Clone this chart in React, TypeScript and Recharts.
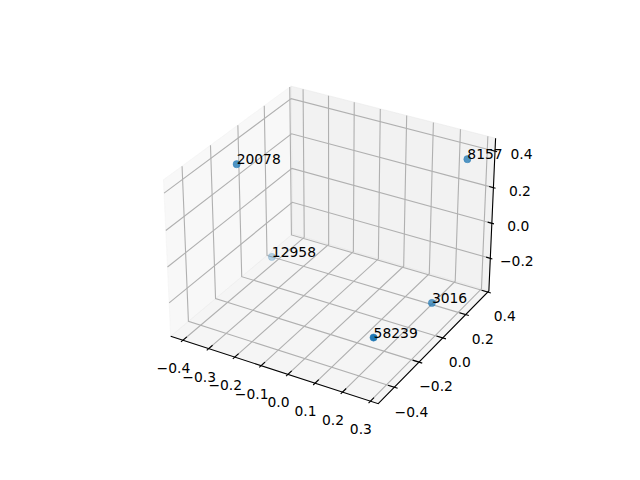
import React from "react"
import { ScatterChart, Scatter, XAxis, YAxis, Customized } from "recharts"

const labels = ["20078", "8157", "12958", "3016", "58239"]
const xs = [-0.324, 0.298, -0.408, 0.298, 0.292]
const ys = [-0.247, 0.238, 0.161, -0.032, -0.49]
const zs = [0.443, 0.441, -0.357, -0.184, -0.071]

const xTicks = [-0.4, -0.3, -0.2, -0.1, 0, 0.1, 0.2, 0.3]
const yTicks = [-0.4, -0.2, 0, 0.2, 0.4]
const zTicks = [-0.2, 0, 0.2, 0.4]

const xLim = [-0.448, 0.328]
const yLim = [-0.527, 0.41]
const zLim = [-0.39, 0.47]

const FONT = "DejaVu Sans"
const BLUE = "#1f77b4"

// same camera as a default matplotlib 3d axes (elev 30, azim -60, dist 10)
const elev = (30 * Math.PI) / 180
const azim = (-60 * Math.PI) / 180
const dist = 10
const box = [1.1429, 1.1429, 0.8572]
const w = [Math.cos(elev) * Math.cos(azim), Math.cos(elev) * Math.sin(azim), Math.sin(elev)]
const uLen = Math.hypot(w[0], w[1])
const u = [-w[1] / uLen, w[0] / uLen, 0]
const v = [w[1] * u[2] - w[2] * u[1], w[2] * u[0] - w[0] * u[2], w[0] * u[1] - w[1] * u[0]]

function view(x: number, y: number, z: number) {
  const p = [
    ((x - xLim[0]) / (xLim[1] - xLim[0])) * box[0] - box[0] / 2 - dist * w[0],
    ((y - yLim[0]) / (yLim[1] - yLim[0])) * box[1] - box[1] / 2 - dist * w[1],
    ((z - zLim[0]) / (zLim[1] - zLim[0])) * box[2] - box[2] / 2 - dist * w[2],
  ]
  const dot = (a: number[]) => a[0] * p[0] + a[1] * p[1] + a[2] * p[2]
  return [dot(u), dot(v), dot(w)]
}

function project(x: number, y: number, z: number): [number, number] {
  const [vx, vy, vz] = view(x, y, z)
  return [332.6 + (vx / -vz) * 2081, 237.6 - (vy / -vz) * 2081]
}

const depths = xs.map((x, i) => view(x, ys[i], zs[i])[2])
const nearest = Math.max(...depths)
const farthest = Math.min(...depths)

const points = labels.map((label, i) => {
  const [sx, sy] = project(xs[i], ys[i], zs[i])
  return { label, sx, sy, alpha: 1 - ((nearest - depths[i]) / (nearest - farthest)) * 0.7 }
})

type P3 = [number, number, number]

function Path3({ pts, color = "#b0b0b0", width = 1.11 }: { pts: P3[]; color?: string; width?: number }) {
  const d = pts.map((p) => project(p[0], p[1], p[2]).join(",")).join(" ")
  return <polyline points={d} fill="none" stroke={color} strokeWidth={width} />
}

function Pane({ pts, shade }: { pts: P3[]; shade: string }) {
  const d = pts.map((p) => project(p[0], p[1], p[2]).join(",")).join(" ")
  return <polygon points={d} fill={shade} fillOpacity={0.5} stroke={shade} strokeOpacity={0.5} strokeWidth={1} />
}

function tickText(t: number) {
  return t.toFixed(1).replace("-", "\u2212")
}

function Label({ at, text }: { at: [number, number]; text: string }) {
  return (
    <text x={at[0]} y={at[1]} textAnchor="middle" fontFamily={FONT} fontSize={13.89} fill="#000">
      {text}
    </text>
  )
}

function Axes3D() {
  const [x0, x1] = xLim
  const [y0, y1] = yLim
  const [z0, z1] = zLim
  const xr = x1 - x0
  const yr = y1 - y0
  return (
    <g>
      <Pane shade="#f2f2f2" pts={[[x0, y0, z0], [x0, y1, z0], [x0, y1, z1], [x0, y0, z1]]} />
      <Pane shade="#e6e6e6" pts={[[x0, y1, z0], [x1, y1, z0], [x1, y1, z1], [x0, y1, z1]]} />
      <Pane shade="#ececec" pts={[[x0, y0, z0], [x1, y0, z0], [x1, y1, z0], [x0, y1, z0]]} />

      {xTicks.map((t) => (
        <Path3 key={`gx${t}`} pts={[[t, y0, z0], [t, y1, z0], [t, y1, z1]]} />
      ))}
      {yTicks.map((t) => (
        <Path3 key={`gy${t}`} pts={[[x1, t, z0], [x0, t, z0], [x0, t, z1]]} />
      ))}
      {zTicks.map((t) => (
        <Path3 key={`gz${t}`} pts={[[x0, y0, t], [x0, y1, t], [x1, y1, t]]} />
      ))}

      <Path3 color="#000" pts={[[x0, y0, z0], [x1, y0, z0], [x1, y1, z0], [x1, y1, z1]]} />

      {xTicks.map((t) => {
        const [px, py] = project(t, y0, z0)
        return (
          <g key={`tx${t}`}>
            <Path3 color="#000" pts={[[t, y0 - 0.015 * yr, z0], [t, y0 + 0.03 * yr, z0]]} />
            <Label at={[px - 9.5, py + 33]} text={tickText(t)} />
          </g>
        )
      })}
      {yTicks.map((t) => {
        const [px, py] = project(x1, t, z0)
        return (
          <g key={`ty${t}`}>
            <Path3 color="#000" pts={[[x1 + 0.015 * xr, t, z0], [x1 - 0.03 * xr, t, z0]]} />
            <Label at={[px + 17, py + 29.3]} text={tickText(t)} />
          </g>
        )
      })}
      {zTicks.map((t) => {
        const [px, py] = project(x1, y1, t)
        return (
          <g key={`tz${t}`}>
            <Path3 color="#000" pts={[[x1 + 0.01 * xr, y1, t], [x1 - 0.02 * xr, y1, t]]} />
            <Label at={[px + 26.5, py + 8]} text={tickText(t)} />
          </g>
        )
      })}
    </g>
  )
}

function Dot(props: any) {
  const { cx, cy, payload } = props
  return (
    <g>
      <circle cx={cx} cy={cy} r={3.6} fill={BLUE} fillOpacity={payload.alpha} />
      <circle cx={cx} cy={cy} r={3.6} fill="none" stroke={BLUE} strokeOpacity={payload.alpha * 0.5} strokeWidth={1} />
      <text x={cx} y={cy} fontFamily={FONT} fontSize={13.89} fill="#000">
        {payload.label}
      </text>
    </g>
  )
}

export default function App() {
  return (
    <div style={{ position: "absolute", left: 0, top: 0, width: 640, height: 480, background: "#fff" }}>
      <ScatterChart width={640} height={480} margin={{ top: 0, right: 0, bottom: 0, left: 0 }}>
        <XAxis type="number" dataKey="sx" domain={[0, 640]} hide />
        <YAxis type="number" dataKey="sy" domain={[0, 480]} reversed hide />
        <Customized component={Axes3D} />
        <Scatter data={points} shape={Dot} isAnimationActive={false} />
      </ScatterChart>
    </div>
  )
}
